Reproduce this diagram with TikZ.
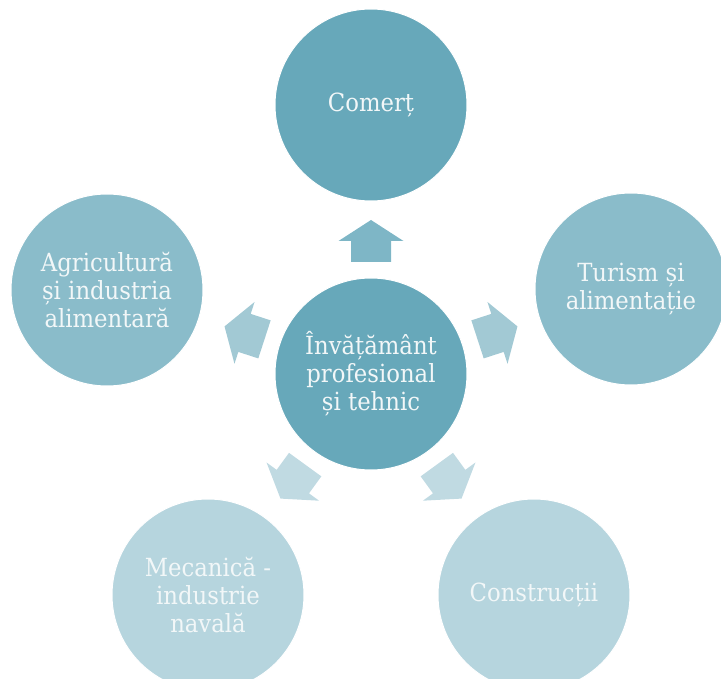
\documentclass[tikz,border=0pt]{standalone}
\usepackage{fontspec}
\setmainfont{DejaVu Serif}[FakeStretch=0.91]
\definecolor{cdark}{HTML}{67A8BA}
\definecolor{cmid}{HTML}{8ABCCA}
\definecolor{clight}{HTML}{B6D5DE}
\definecolor{adark}{HTML}{7EB6C6}
\definecolor{amid}{HTML}{A2C9D4}
\definecolor{alight}{HTML}{C0DAE2}
\definecolor{txt}{HTML}{F2F7F8}
\tikzset{
  bubble/.style={circle, minimum size=192pt, inner sep=0pt, draw=white, line width=1pt,
    text=txt, align=center, font=\fontsize{25}{28}\selectfont}
}
\newcommand{\blockarr}[2]{%
  \begin{scope}[shift={(371,374)}, rotate=#1]
    \fill[#2] (112,-20) -- (133,-20) -- (133,-32.5) -- (154,0) -- (133,32.5) -- (133,20) -- (112,20) -- cycle;
  \end{scope}}
\begin{document}
\begin{tikzpicture}[x=1pt,y=-1pt]
\useasboundingbox (0,0) rectangle (721,679);
\clip (0,0) rectangle (721,679);
\node[bubble, fill=cdark] (top) at (371,105) {Comerț};
\node[bubble, fill=cmid] (right) at (631,289) {Turism și\\alimentație};
\node[bubble, fill=cmid] (left) at (107,290) {Agricultură\\și industria\\alimentară};
\node[bubble, fill=clight] (bl) at (208,595) {Mecanică -\\industrie\\navală};
\node[bubble, fill=clight] (br) at (534,595) {Construcții};
\node[bubble, fill=cdark] (center) at (371,374) {Învățământ\\profesional\\și tehnic};
\blockarr{90}{adark}
\blockarr{18}{amid}
\blockarr{162}{amid}
\blockarr{-54}{alight}
\blockarr{-126}{alight}
\end{tikzpicture}
\end{document}
